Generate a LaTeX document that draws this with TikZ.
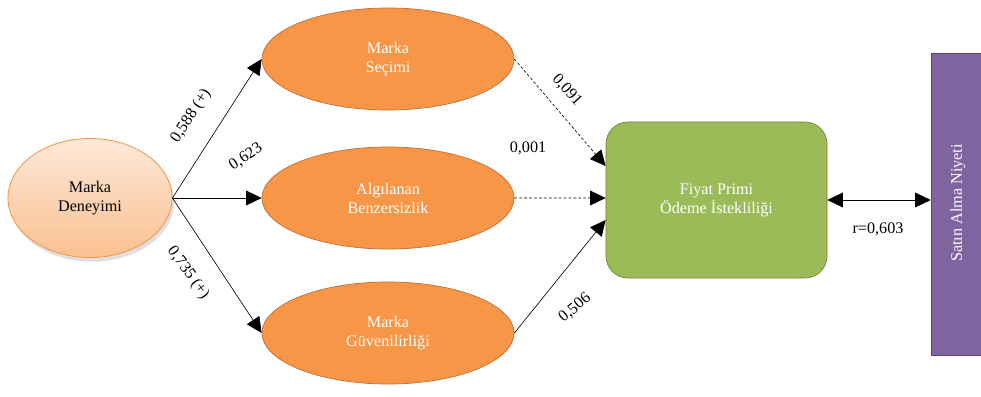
\documentclass[tikz,border=0pt]{standalone}
\usepackage{fontspec}
\setmainfont{Liberation Serif}
\usetikzlibrary{arrows.meta,shapes.geometric,shadows}
\definecolor{orng}{HTML}{F79646}
\definecolor{orngd}{HTML}{C0713A}
\definecolor{peachtop}{HTML}{FDE9D9}
\definecolor{peachbot}{HTML}{FAC090}
\definecolor{grn}{HTML}{9BBB59}
\definecolor{grnd}{HTML}{71893F}
\definecolor{purp}{HTML}{8064A2}
\definecolor{purpd}{HTML}{5C4776}
\tikzset{
  lbl/.style={font=\fontsize{11.5}{13.5}\selectfont, inner sep=0pt},
  construct/.style={ellipse, draw=orngd, line width=0.5pt, fill=orng, text=white,
     minimum width=6.3cm, minimum height=2.55cm, inner sep=0pt, align=center,
     font=\fontsize{11.5}{13.5}\selectfont},
  src/.style={ellipse, draw=orng, line width=0.6pt, top color=peachtop, bottom color=peachbot,
     minimum width=4.1cm, minimum height=2.975cm, inner sep=0pt, align=center,
     font=\fontsize{11.5}{13.5}\selectfont,
     drop shadow={opacity=0.25, shadow xshift=1.5pt, shadow yshift=-3pt}},
  tip/.style={Triangle[length=11pt,width=10.5pt]},
  conn/.style={line width=0.45pt, -{Triangle[length=11pt,width=10.5pt]}},
  dconn/.style={conn, dashed, dash pattern=on 2pt off 1.5pt},
}
\begin{document}
\begin{tikzpicture}[x=0.025cm, y=-0.025cm]
\useasboundingbox (0,0) rectangle (981,396);
% nodes
\node[src] (md) at (90,198) {Marka\\Deneyimi};
\node[construct] (ms) at (388,59) {Marka\\Seçimi};
\node[construct] (ab) at (388,198) {Algılanan\\Benzersizlik};
\node[construct] (mg) at (388,333) {Marka\\Güvenilirliği};
\node[rectangle, rounded corners=0.55cm, draw=grnd, line width=0.5pt, fill=grn, text=white,
      minimum width=5.525cm, minimum height=3.9cm, align=center,
      font=\fontsize{11.5}{13.5}\selectfont] (fp) at (716.5,200) {Fiyat Primi\\Ödeme İstekliliği};
\node[rectangle, draw=purpd, line width=0.5pt, fill=purp, text=white,
      minimum width=1.35cm, minimum height=7.55cm, inner sep=0pt] (sa) at (958,204) {};
\node[lbl, text=white, rotate=90] (satext) at (958,203) {Satın Alma Niyeti};
% connectors
\draw[conn] (md.east) -- (ms.west);
\draw[conn] (md.east) -- (ab.west);
\draw[conn] (md.east) -- (mg.west);
\draw[dconn] (ms.east) -- ([yshift=0.85cm]fp.west);
\draw[dconn] (ab.east) -- ([yshift=0.05cm]fp.west);
\draw[conn] (mg.east) -- ([yshift=-0.5cm]fp.west);
\draw[line width=0.45pt, {Triangle[length=11pt,width=10.5pt]}-{Triangle[length=11pt,width=10.5pt]}]
   (fp.east) -- (sa.west |- fp.east);
% labels
\node[lbl, rotate=57] (l1) at (191,116) {0,588 (+)};
\node[lbl, rotate=34] (l2) at (246,157) {0,623};
\node[lbl, rotate=-54] (l3) at (188,273) {0,735 (+)};
\node[lbl, rotate=-48] (l4) at (567,90) {0,091};
\node[lbl] (l5) at (528,148) {0,001};
\node[lbl, rotate=40] (l6) at (575,308) {0,506};
\node[lbl] (l7) at (878,229) {r=0,603};
\end{tikzpicture}
\end{document}
